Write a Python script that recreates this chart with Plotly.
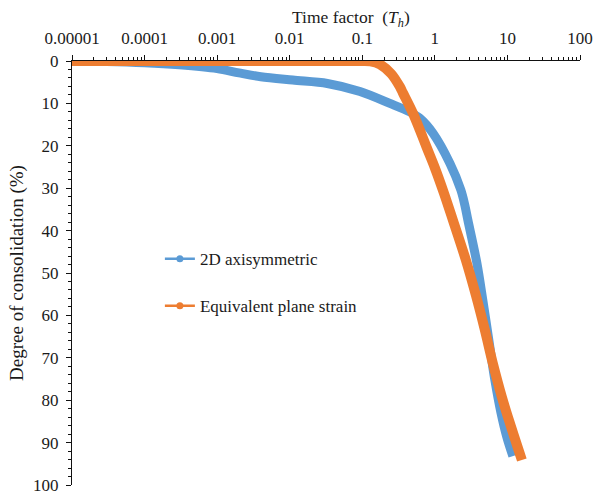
import plotly.graph_objects as go

# ---- data ----
T_axi = [1e-5, 3e-5, 1e-4, 3e-4, 1e-3, 2e-3, 4e-3, 1.1e-2, 3.3e-2, 9.3e-2, 0.24, 0.45,
         0.62, 0.94, 1.61, 2.28, 2.59, 2.85, 3.79, 4.58, 5.54, 6.70, 8.11, 9.81, 11.87]
U_axi = [0, 0.1, 0.4, 0.9, 1.8, 2.8, 3.7, 4.5, 5.3, 7.2, 10, 12,
         13.5, 17, 24.1, 30.4, 34.0, 37.5, 47.6, 56.4, 65.8, 75.2, 82.8, 88.7, 93.2]

T_ps = [1e-5, 1e-4, 1e-3, 1e-2, 0.1, 0.13, 0.175, 0.25, 0.33, 0.362, 0.498, 0.622, 0.776,
        1.0, 1.33, 1.77, 2.67, 3.67, 4.88, 6.27, 8.37, 10.8, 15.8]
U_ps = [0, 0, 0, 0, 0, 0.1, 0.8, 3, 6.1, 7.5, 12.3, 16.3, 20.5,
        25.2, 31.1, 37.5, 46.9, 55.2, 63.4, 71.2, 79.2, 85.4, 94.1]

x_tickvals = [1e-5, 1e-4, 1e-3, 1e-2, 1e-1, 1, 10, 100]
x_ticktext = ["0.00001", "0.0001", "0.001", "0.01", "0.1", "1", "10", "100"]
x_minor = [k * 10.0 ** e for e in range(-5, 2) for k in range(2, 10)]

series_names = ["2D axisymmetric", "Equivalent plane strain"]
BLUE = "#5B9BD5"
ORANGE = "#ED7D31"
FONT = "Liberation Serif"
TXT = "#1a1a1a"

fig = go.Figure()
fig.add_trace(go.Scatter(x=T_axi, y=U_axi, mode="lines",
                         line=dict(color=BLUE, width=9, shape="spline", smoothing=0.9),
                         showlegend=False, cliponaxis=False))
fig.add_trace(go.Scatter(x=T_ps, y=U_ps, mode="lines",
                         line=dict(color=ORANGE, width=10, shape="spline", smoothing=0.9),
                         showlegend=False, cliponaxis=False))
# legend entries
for name, col, grp in [(series_names[0], BLUE, "a"), (series_names[1], ORANGE, "b")]:
    fig.add_trace(go.Scatter(x=[None], y=[None], mode="lines+markers", name=name, legendgroup=grp,
                             line=dict(color=col, width=2.5), marker=dict(color=col, size=7)))

fig.update_layout(
    width=595, height=495,
    margin=dict(l=72, r=15, t=61, b=10),
    paper_bgcolor="white", plot_bgcolor="white",
    font=dict(family=FONT, size=17, color=TXT),
    showlegend=True,
    legend=dict(x=0.173, y=0.575, xanchor="left", yanchor="top", bgcolor="rgba(0,0,0,0)",
                font=dict(family=FONT, size=17, color=TXT), tracegroupgap=22,
                traceorder="grouped"),
    xaxis=dict(type="log", range=[-5, 2], side="top", tickvals=x_tickvals, ticktext=x_ticktext,
               ticks="outside", ticklen=5, tickcolor="#111", showline=True, linecolor="#111", linewidth=1,
               showgrid=False, zeroline=False, layer="below traces", automargin=False,
               ticklabelstandoff=4,
               tickfont=dict(family=FONT, size=17, color=TXT),
               minor=dict(tickvals=x_minor, ticks="outside", ticklen=3, tickcolor="#111", showgrid=False)),
    yaxis=dict(range=[100, 0], dtick=10, ticks="outside", ticklen=5, tickcolor="#111",
               showline=True, linecolor="#111", linewidth=1, showgrid=False, zeroline=False,
               layer="below traces", automargin=False, ticklabelstandoff=4,
               tickfont=dict(family=FONT, size=17, color=TXT),
               title=dict(text="Degree of consolidation (%)", font=dict(family=FONT, size=19, color=TXT),
                          standoff=4),
               minor=dict(dtick=2, ticks="outside", ticklen=3, tickcolor="#111", showgrid=False)),
)
fig.add_annotation(text="Time factor  (<i>T<sub>h</sub></i>)", xref="paper", yref="paper",
                   x=0.55, y=1.0, yshift=43, xanchor="center", yanchor="middle", showarrow=False,
                   font=dict(family=FONT, size=17.5, color=TXT))

fig.write_html("out.html")
